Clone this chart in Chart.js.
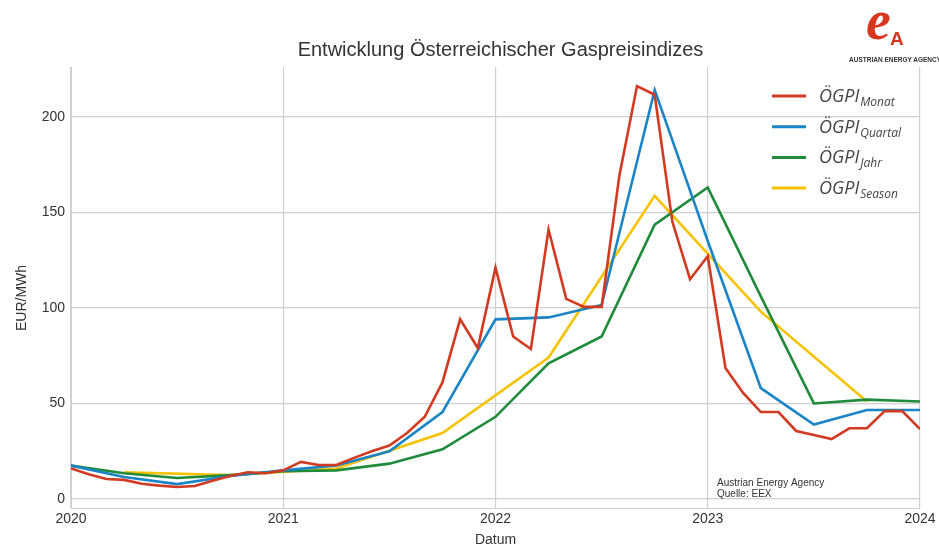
<!DOCTYPE html>
<html>
<head>
<meta charset="utf-8">
<script src="https://cdn.jsdelivr.net/npm/chart.js@4/dist/chart.umd.min.js"></script>
<style>
  body { margin: 0; background: #fff; }
  #wrap { position: relative; width: 939px; height: 549px; }
  #logo { position: absolute; left: 846px; top: 2px; width: 100px; height: 66px; font-family: "Liberation Sans", Arial, sans-serif; }
  #logo .e { position: absolute; left: 20px; top: -14px; font: italic bold 56px "Liberation Serif", serif; color: #d8361f; }
  #logo .a { position: absolute; left: 44px; top: 26px; font: bold 19px "Liberation Sans", sans-serif; color: #d8361f; }
  #logo .t { position: absolute; left: 3px; top: 54px; font-size: 6.5px; font-weight: bold; color: #333; white-space: nowrap; }
</style>
</head>
<body>
<div id="wrap">
  <canvas id="aChart" width="939" height="549"></canvas>
  <div id="logo"><span class="e">e</span><span class="a">A</span><span class="t">AUSTRIAN ENERGY AGENCY</span></div>
</div>
<script>
// monthly index 2020-01 .. 2024-01
let monatValues = [
  16, 13, 10.5, 10, 8, 7, 6.3, 6.8, 9.5, 12, 14, 13.5,
  15, 19.4, 17.8, 17.8, 21.5, 25, 28, 34.5, 43, 61, 94, 79,
  121, 85, 78.5, 141, 104.7, 100.5, 100.5, 169, 216, 211.5, 145, 115,
  127, 68.6, 55.5, 45.5, 45.5, 35.6, 33.5, 31.4, 37, 37, 46, 46,
  36.6
]
// quarterly 2020-01 .. 2024-01
let quartalValues = [17.5, 11.5, 7.8, 12, 15, 17.5, 25, 45.5, 94, 95, 101.5, 214, 135, 58, 39, 46.6, 46.6]
let jahrValues = [17.5, 13.5, 11, 12.5, 14.5, 15, 18.5, 26, 43, 71, 85, 143.5, 163, 106, 50, 52, 51]
// season starts (April / October)
let seasonDates = ["2020-04", "2020-10", "2021-04", "2021-10", "2022-04", "2022-10", "2023-04", "2023-10"]
let seasonValues = [14, 12.5, 16, 34.5, 74, 158.6, 98, 51]

let yTicks = [0, 50, 100, 150, 200]
let seriesNames = ["Monat", "Quartal", "Jahr", "Season"]
let colors = ["#d23a22", "#1984c6", "#1f8b3b", "#f7c200"]

function toYear(s) {
  let p = s.split("-")
  return +p[0] + (+p[1] - 1) / 12
}
function monthDate(i) {
  let y = 2020 + Math.floor(i / 12), m = i % 12 + 1
  return y + "-" + String(m).padStart(2, "0")
}

let monat = monatValues.map((v, i) => ({ x: toYear(monthDate(i)), y: v }))
let quartal = quartalValues.map((v, i) => ({ x: toYear(monthDate(i * 3)), y: v }))
let jahr = jahrValues.map((v, i) => ({ x: toYear(monthDate(i * 3)), y: v }))
let season = seasonValues.map((v, i) => ({ x: toYear(seasonDates[i]), y: v }))

let font = "'Liberation Sans', Arial, sans-serif"

// title, y label, legend with subscripts, source note
let extras = {
  id: "extras",
  afterDraw(chart) {
    let ctx = chart.ctx
    let a = chart.chartArea
    ctx.save()
    ctx.fillStyle = "#333"
    ctx.textAlign = "center"
    ctx.textBaseline = "middle"
    ctx.font = "20px " + font
    ctx.fillText("Entwicklung Österreichischer Gaspreisindizes", (a.left + a.right) / 2 + 5, 50)

    ctx.save()
    ctx.translate(22, 298)
    ctx.rotate(-Math.PI / 2)
    ctx.font = "14px " + font
    ctx.fillText("EUR/MWh", 0, 0)
    ctx.restore()

    ctx.textAlign = "left"
    ctx.textBaseline = "alphabetic"
    seriesNames.forEach((n, i) => {
      let y = 96 + i * 30.7
      ctx.strokeStyle = colors[i]
      ctx.lineWidth = 3
      ctx.beginPath()
      ctx.moveTo(772, y)
      ctx.lineTo(806, y)
      ctx.stroke()
      ctx.fillStyle = "#444"
      ctx.font = "italic 18px 'Open Sans', sans-serif"
      ctx.fillText("ÖGPI", 819, y + 6)
      let w = ctx.measureText("ÖGPI").width
      ctx.font = "italic 12px 'Open Sans', sans-serif"
      ctx.fillText(n, 819 + w + 1, y + 10)
    })

    ctx.fillStyle = "#333"
    ctx.font = "10px " + font
    ctx.fillText("Austrian Energy Agency", 717, 486)
    ctx.fillText("Quelle: EEX", 717, 497)
    ctx.restore()
  }
}

function ds(label, data, c) {
  return { label: label, data: data, borderColor: c, backgroundColor: c, borderWidth: 2.6, pointRadius: 0, tension: 0 }
}

let aChart = new Chart(document.getElementById("aChart"), {
  type: "line",
  data: {
    datasets: [
      ds("Monat", monat, colors[0]),
      ds("Quartal", quartal, colors[1]),
      ds("Jahr", jahr, colors[2]),
      ds("Season", season, colors[3]),
    ],
  },
  options: {
    responsive: false,
    animation: false,
    layout: { padding: { left: 0, right: 19, top: 67, bottom: 0 } },
    plugins: {
      legend: { display: false },
      tooltip: { enabled: false },
      title: { display: false },
    },
    scales: {
      x: {
        type: "linear",
        min: 2020,
        max: 2024,
        ticks: { stepSize: 1, color: "#333", font: { family: font, size: 14 }, callback: v => String(v), padding: 3, maxRotation: 0 },
        grid: { color: "#d0d0d0", lineWidth: 1.2, drawTicks: false },
        border: { color: "#d0d0d0" },
        title: { display: true, text: "Datum", color: "#333", font: { family: font, size: 14 }, padding: { top: 2, bottom: 0 } },
        afterFit: s => { s.height = 41 },
      },
      y: {
        min: -4.7,
        max: 226,
        ticks: { color: "#333", font: { family: font, size: 14 }, padding: 6 },
        afterBuildTicks: s => { s.ticks = yTicks.map(v => ({ value: v })) },
        grid: { color: "#d0d0d0", lineWidth: 1.2, drawTicks: false },
        border: { color: "#d0d0d0" },
        afterFit: s => { s.width = 71 },
      },
    },
  },
  plugins: [extras],
});
</script>
</body>
</html>
